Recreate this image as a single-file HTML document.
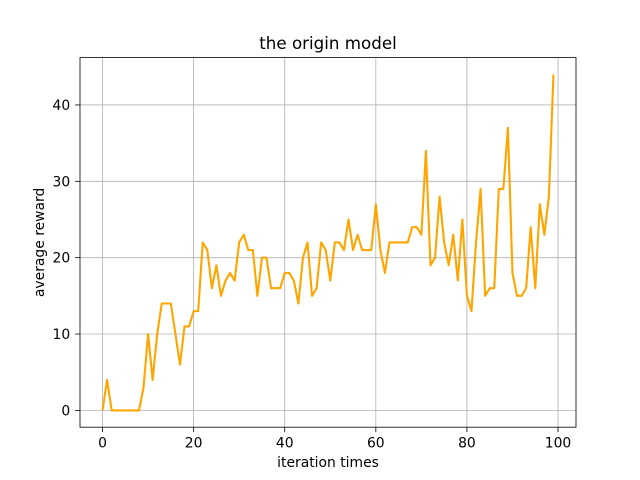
<!DOCTYPE html>
<html><head><meta charset="utf-8"><style>
body{margin:0;background:#fff;}
svg{display:block;font-family:"DejaVu Sans","Liberation Sans",sans-serif;}
</style></head><body>
<svg id="chart" width="640" height="480"></svg>
<script>
const iterations = Array.from({length:100},(_,i)=>i);
const rewards = [0,4,0,0,0,0,0,0,0,3,10,4,10,14,14,14,10,6,11,11,13,13,22,21,16,19,15,17,18,17,22,23,21,21,15,20,20,16,16,16,18,18,17,14,20,22,15,16,22,21,17,22,22,21,25,21,23,21,21,21,27,21,18,22,22,22,22,22,24,24,23,34,19,20,28,22,19,23,17,25,15,13,22,29,15,16,16,29,29,37,18,15,15,16,24,16,27,23,28,44];
const xTicks = [0,20,40,60,80,100];
const yTicks = [0,10,20,30,40];

const NS='http://www.w3.org/2000/svg';
const svg=document.getElementById('chart');
const L=80,R=576,T=57.6,B=427.2;
const xmin=-4.95,xmax=103.95,ymin=-2.2,ymax=46.2;
const xs=v=>L+(v-xmin)/(xmax-xmin)*(R-L);
const ys=v=>B-(v-ymin)/(ymax-ymin)*(B-T);
function el(tag,attrs,parent){const e=document.createElementNS(NS,tag);for(const k in attrs)e.setAttribute(k,attrs[k]);(parent||svg).appendChild(e);return e;}

const grid=el('g',{});


xTicks.forEach(t=>{
  const x=xs(t);
  el('line',{x1:x,x2:x,y1:T,y2:B,stroke:'#b0b0b0','stroke-width':0.8},grid);
  el('line',{x1:x,x2:x,y1:B,y2:B+4.9,stroke:'#000','stroke-width':0.8});
  const tx=el('text',{x:x,y:B+20.5,'text-anchor':'middle','font-size':13.9});
  tx.textContent=t;
  
  
});
yTicks.forEach(t=>{
  const y=ys(t);
  el('line',{x1:L,x2:R,y1:y,y2:y,stroke:'#b0b0b0','stroke-width':0.8},grid);
  el('line',{x1:L-4.9,x2:L,y1:y,y2:y,stroke:'#000','stroke-width':0.8});
  const tx=el('text',{x:L-9.8,y:y+5,'text-anchor':'end','font-size':13.9});
  tx.textContent=t;
  
  
});

const line=el('polyline',{points:iterations.map((x,i)=>xs(x)+','+ys(rewards[i])).join(' '),fill:'none',stroke:'#ffa500','stroke-width':2.1,'stroke-linejoin':'round'});



const frame=el('rect',{x:L,y:T,width:R-L,height:B-T,fill:'none',stroke:'#000','stroke-width':0.8});



const title=el('text',{x:(L+R)/2,y:T-8.5,'text-anchor':'middle','font-size':16.7});
title.textContent='the origin model';



const xl=el('text',{x:(L+R)/2,y:467,'text-anchor':'middle','font-size':13.9});
xl.textContent='iteration times';



const yl=el('text',{x:0,y:0,'text-anchor':'middle','font-size':13.9,transform:'translate(44,'+((T+B)/2)+') rotate(-90)'});
yl.textContent='average reward';


</script>
</body></html>
